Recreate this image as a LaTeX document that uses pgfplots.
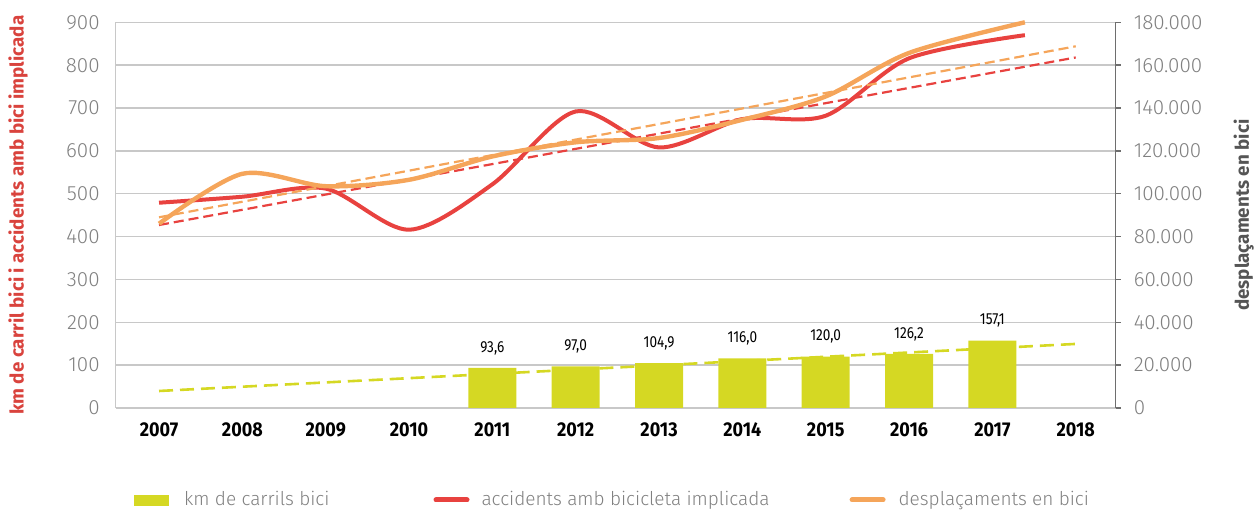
\documentclass[border=0pt]{standalone}
\usepackage{pgfplots}
\pgfplotsset{compat=1.18}
\usepackage{pgfplotstable}
\usepackage{fontspec}
\setmainfont{Fira Sans}
\newfontfamily\lightfont{Fira Sans Light}
\newfontfamily\yearfont{Fira Sans Bold}[FakeStretch=0.9]
\newfontfamily\barfont{Fira Sans}[FakeStretch=0.85]

\definecolor{kmgreen}{HTML}{D5D823}
\definecolor{accred}{HTML}{E8423F}
\definecolor{desorange}{HTML}{F5A55A}
\definecolor{labelred}{HTML}{D9433D}
\definecolor{gridgray}{HTML}{C8C8C8}
\definecolor{tickgray}{HTML}{808080}
\definecolor{axisdark}{HTML}{6E6E6E}
\definecolor{rlabelgray}{HTML}{555555}

% km de carrils bici (bars)
\pgfplotstableread{
year km label
2011 93.6 93,6
2012 97.0 97,0
2013 104.9 104,9
2014 116.0 116,0
2015 120.0 120,0
2016 126.2 126,2
2017 157.1 157,1
}\kmtable

% accidents amb bicicleta implicada
\pgfplotstableread{
year acc
2007 479
2008 493
2009 512
2010 416
2011 522
2012 692
2013 608
2014 674
2015 682
2016 816
2017.39 870
}\acctable

% desplaçaments en bici
\pgfplotstableread{
year des
2007 86000
2008 109300
2009 103500
2010 106500
2011 117400
2012 124000
2013 126000
2014 134500
2015 145400
2016 165700
2017.39 180000
}\destable

\begin{document}
\begin{tikzpicture}
\useasboundingbox (-57.85pt,-52.5pt) rectangle (570.15pt,204pt);

\begin{axis}[
  scale only axis, width=500pt, height=192.85pt,
  xmin=2006.48, xmax=2018.48,
  ymin=0, ymax=900,
  axis x line*=bottom, axis y line*=left,
  axis line style={draw=gridgray, line width=0.75pt},
  major tick length=0pt,
  xtick={2007,2008,2009,2010,2011,2012,2013,2014,2015,2016,2017,2018},
  xticklabels={2007,2008,2009,2010,2011,2012,2013,2014,2015,2016,2017,2018},
  xticklabel style={font=\yearfont\fontsize{10}{12}\selectfont, text=black, yshift=-4pt},
  ytick={0,100,200,300,400,500,600,700,800,900},
  yticklabels={0,100,200,300,400,500,600,700,800,900},
  yticklabel style={font=\lightfont\fontsize{10.3}{12}\selectfont, text=tickgray, xshift=-4.5pt},
  ymajorgrids, grid style={draw=gridgray, line width=0.75pt},
  ylabel={km de carril bici i accidents amb bici implicada},
  ylabel style={at={(axis description cs:-0.0977,0.5)}, anchor=center,
    font=\bfseries\fontsize{9.4}{11}\selectfont, text=labelred},
  clip=false,
]
\addplot[ybar, bar width=24pt, fill=kmgreen, draw=none,
  nodes near coords, point meta=explicit symbolic,
  nodes near coords style={font=\barfont\fontsize{8}{10}\selectfont, text=black, anchor=south, yshift=3pt}]
  table[x=year, y=km, meta=label] {\kmtable};
% trend of km de carrils bici
\addplot[kmgreen, line width=1.3pt, dash pattern=on 7pt off 3.5pt]
  coordinates {(2007,39.7) (2018,149.5)};
% trend of accidents
\addplot[accred, line width=1.1pt, dash pattern=on 5pt off 2.5pt]
  coordinates {(2007,427) (2018,818)};
\addplot[accred, line width=2pt, smooth, tension=0.5] table[x=year, y=acc] {\acctable};
\end{axis}

\begin{axis}[
  scale only axis, width=500pt, height=192.85pt,
  xmin=2006.48, xmax=2018.48,
  ymin=0, ymax=180000,
  axis x line=none, axis y line*=right,
  y axis line style={draw=axisdark, line width=0.75pt},
  scaled y ticks=false,
  ytick={0,20000,40000,60000,80000,100000,120000,140000,160000,180000},
  yticklabels={0,20.000,40.000,60.000,80.000,100.000,120.000,140.000,160.000,180.000},
  tick align=outside, major tick length=2.5pt,
  ytick style={draw=axisdark, line width=0.75pt},
  yticklabel style={font=\lightfont\fontsize{10.3}{12}\selectfont, text=tickgray, xshift=3pt},
  ylabel={desplaçaments en bici},
  ylabel style={at={(axis description cs:1.128,0.5)}, anchor=center, rotate=0,
    font=\bfseries\fontsize{9.4}{11}\selectfont, text=rlabelgray},
  clip=false,
  legend columns=3,
  legend style={at={(axis description cs:0.0183,-0.2385)}, anchor=west,
    draw=none, fill=none, inner sep=0pt,
    font=\lightfont\fontsize{9.5}{11}\selectfont, text=tickgray,
    nodes={inner sep=0pt},
    /tikz/column 1/.style={column sep=7.5pt},
    /tikz/column 2/.style={column sep=52pt},
    /tikz/column 3/.style={column sep=6pt},
    /tikz/column 4/.style={column sep=40pt},
    /tikz/column 5/.style={column sep=6.5pt}},
]
\addlegendimage{legend image code/.code={\fill[kmgreen] (0pt,-2.5pt) rectangle (17pt,2.5pt);}}
\addlegendentry{km de carrils bici}
\addlegendimage{legend image code/.code={\draw[accred, line width=2.5pt, line cap=round] (1.25pt,0pt) -- (16.75pt,0pt);}}
\addlegendentry{accidents amb bicicleta implicada}
% trend of desplaçaments
\addplot[desorange, line width=1.1pt, dash pattern=on 5pt off 2.5pt, forget plot]
  coordinates {(2007,89000) (2018,168800)};
\addplot[desorange, line width=2.2pt, smooth, tension=0.5,
  legend image code/.code={\draw[desorange, line width=2.5pt, line cap=round] (1.25pt,0pt) -- (16.75pt,0pt);}]
  table[x=year, y=des] {\destable};
\addlegendentry{desplaçaments en bici}
\end{axis}
\end{tikzpicture}
\end{document}
